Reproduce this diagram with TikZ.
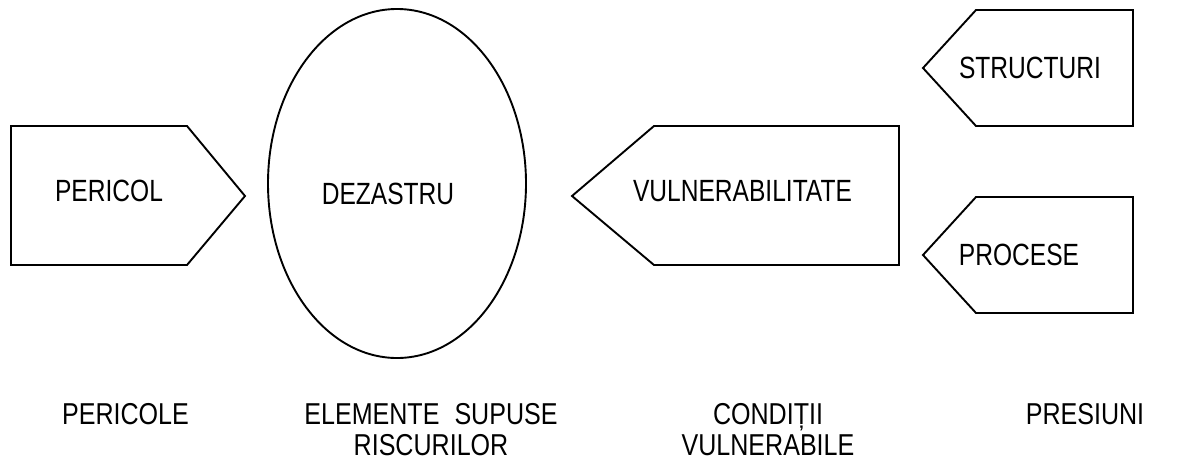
\documentclass[tikz,border=0pt]{standalone}
\usepackage{fontspec}
\setmainfont{Liberation Sans}[FakeStretch=0.80]
\newfontfamily\capfont{Liberation Sans}[FakeStretch=0.83]
\begin{document}
\begin{tikzpicture}[x=1pt,y=-1pt,
  shapeline/.style={draw=black,line width=1.9pt,line join=miter},
  lbl/.style={inner sep=0pt,font=\fontsize{30.7}{36}\selectfont},
  captxt/.style={inner sep=0pt,anchor=base,align=center,font=\capfont\fontsize{30.2}{36}\selectfont}]
\useasboundingbox[fill=white] (0,0) rectangle (1180,461);
% shapes
\draw[shapeline] (11,126) -- (187,126) -- (245,196) -- (187,265) -- (11,265) -- cycle;
\draw[shapeline] (397,183.5) ellipse [x radius=129, y radius=174.5];
\draw[shapeline] (572,196) -- (654,126) -- (899,126) -- (899,265) -- (654,265) -- cycle;
\draw[shapeline] (923,68) -- (976,10) -- (1133,10) -- (1133,126) -- (976,126) -- cycle;
\draw[shapeline] (923,255) -- (976,197) -- (1133,197) -- (1133,313) -- (976,313) -- cycle;
% labels
\node[lbl] (pericol) at (109,191) {PERICOL};
\node[lbl] (dezastru) at (388,194) {DEZASTRU};
\node[lbl] (vuln) at (742.5,191) {VULNERABILITATE};
\node[lbl] (struct) at (1030,67.5) {STRUCTURI};
\node[lbl] (proc) at (1019,254.5) {PROCESE};
% captions
\node[captxt] (c1) at (125.5,424) {PERICOLE};
\node[captxt] (c2) at (431,424) {ELEMENTE\hspace{15pt}SUPUSE};
\node[captxt] (c2b) at (431,455) {RISCURILOR};
\node[captxt] (c3) at (768,424) {CONDIȚII};
\node[captxt] (c3b) at (768,455) {VULNERABILE};
\node[captxt] (c4) at (1085,424) {PRESIUNI};
\end{tikzpicture}
\end{document}
